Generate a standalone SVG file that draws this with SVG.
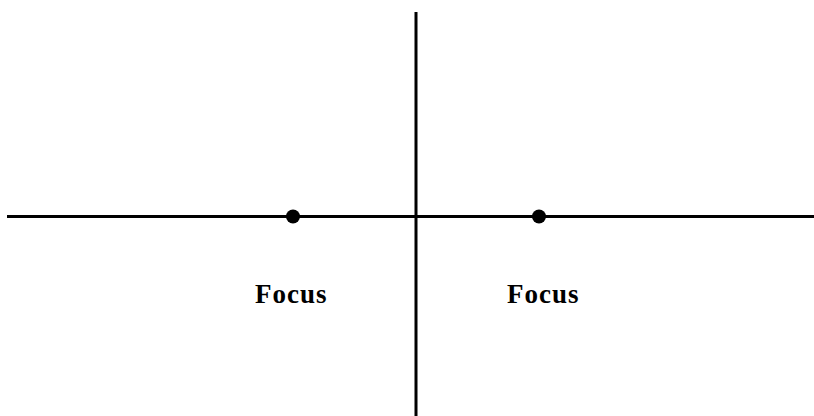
<svg xmlns="http://www.w3.org/2000/svg" width="814" height="416" viewBox="0 0 814 416">
<style>
.ax{stroke:#000;stroke-width:3;fill:none}
.dot{fill:#000}
.lbl{font-family:"Liberation Serif","Times New Roman",serif;font-weight:bold;font-size:27px;letter-spacing:1px;fill:#000}
</style>
<rect width="814" height="416" fill="#fff"/>
<g id="connectors">
<line class="ax" x1="7" y1="216.5" x2="814" y2="216.5"/>
<line class="ax" x1="416" y1="12" x2="416" y2="416"/>
</g>
<g id="focus-left">
<circle class="dot" cx="293" cy="216.5" r="7"/>
<text class="lbl" x="255" y="303">Focus</text>
</g>
<g id="focus-right">
<circle class="dot" cx="539" cy="216.5" r="7"/>
<text class="lbl" x="507" y="303">Focus</text>
</g>
</svg>
